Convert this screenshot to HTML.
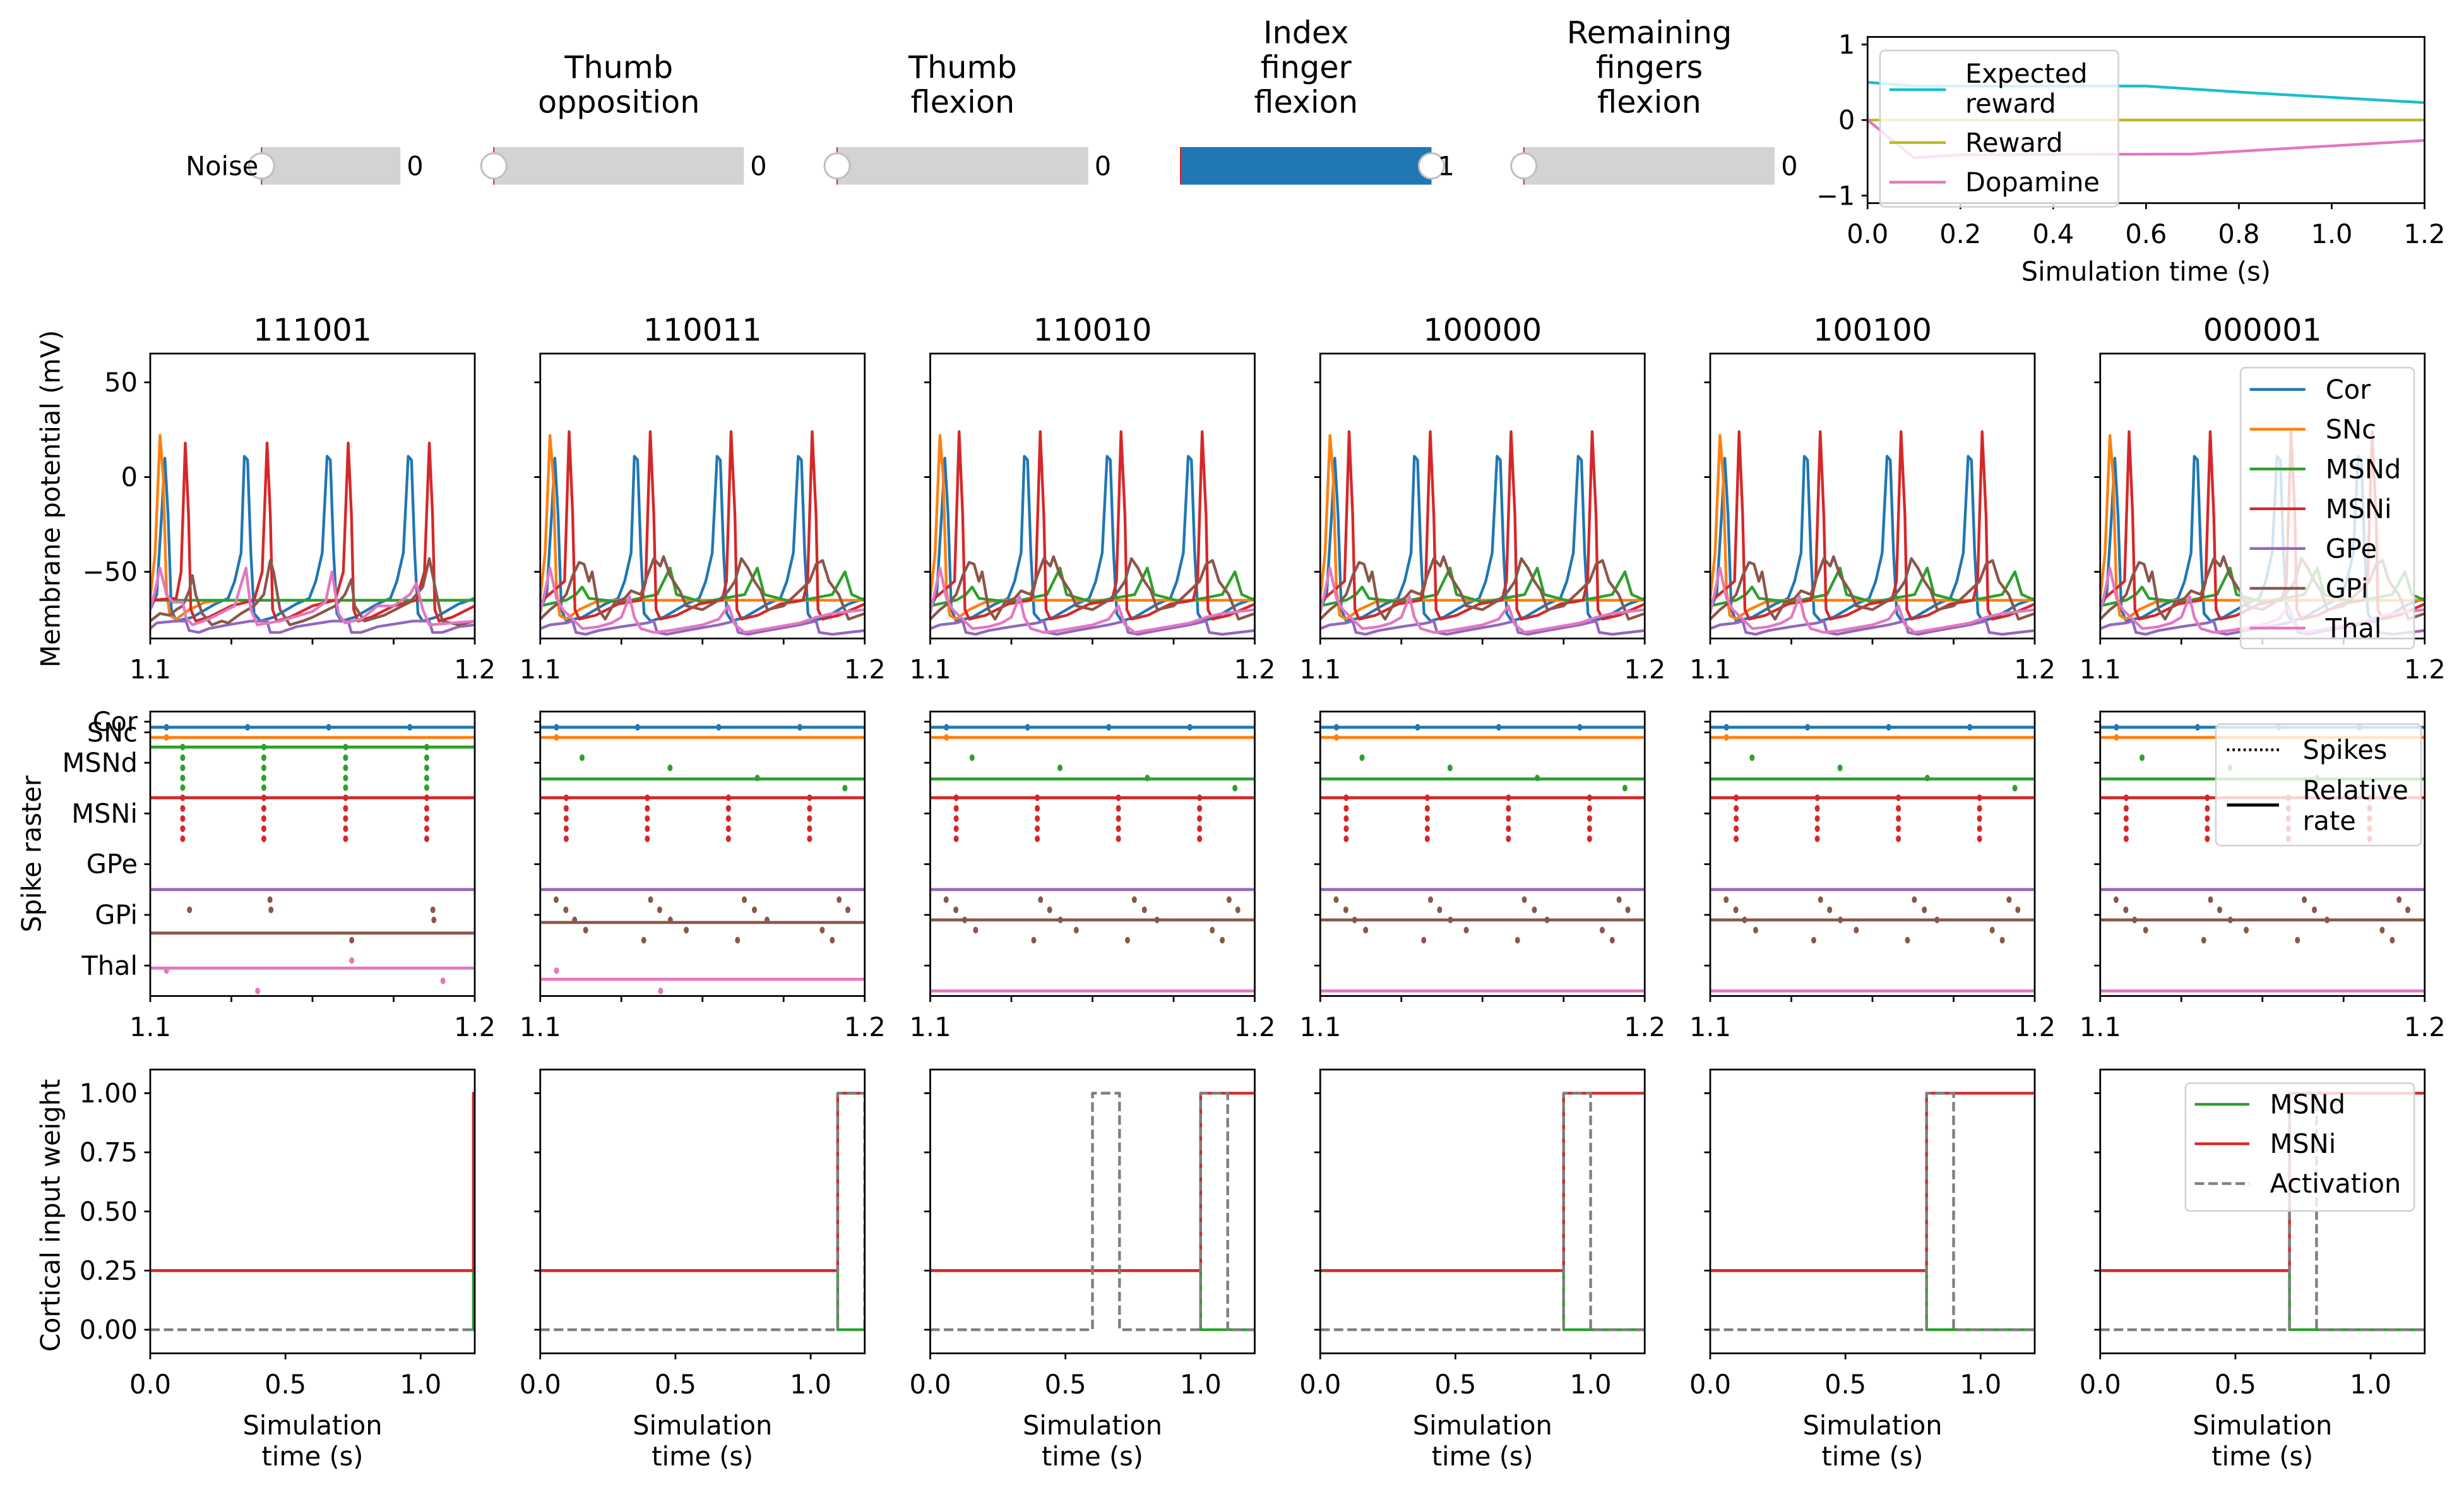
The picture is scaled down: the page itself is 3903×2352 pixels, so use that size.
<!DOCTYPE html>
<html><head><meta charset="utf-8"><style>
html,body{margin:0;padding:0;background:#fff;}
svg{display:block;font-family:"DejaVu Sans","Liberation Sans",sans-serif;}
</style></head><body>
<svg id="fig" xmlns="http://www.w3.org/2000/svg" width="3903" height="2352" viewBox="0 0 1561.2 940.8"></svg>
<script>
// ---------- data ----------
const colTitles = ['111001','110011','110010','100000','100100','000001'];
const popNames = ['Cor','SNc','MSNd','MSNi','GPe','GPi','Thal'];
const popColors = ['#1f77b4','#ff7f0e','#2ca02c','#d62728','#9467bd','#8c564b','#e377c2'];

// membrane potential traces [t, mV] ; pattern A = column 1, pattern B = columns 2-6
const corTrace = [[1.100,-70],[1.102,-62],[1.1035,-20],[1.1045,10],[1.1055,-20],[1.1065,-70],[1.108,-76],[1.113,-74],[1.120,-67],[1.124,-64],[1.126,-55],[1.128,-40],[1.129,11],[1.130,9],[1.131,-40],[1.132,-72],[1.134,-76],[1.138,-74],[1.145,-67],[1.149,-64],[1.151,-55],[1.153,-40],[1.1545,11],[1.1555,9],[1.1565,-40],[1.1575,-72],[1.159,-76],[1.163,-74],[1.170,-67],[1.174,-64],[1.176,-55],[1.178,-40],[1.1795,11],[1.1805,9],[1.1815,-40],[1.1825,-72],[1.184,-76],[1.188,-74],[1.195,-67],[1.200,-64]];
const sncTrace = [[1.100,-64],[1.1015,-40],[1.103,22],[1.104,0],[1.105,-60],[1.106,-73],[1.108,-75],[1.112,-70],[1.117,-66],[1.122,-65],[1.200,-65]];
const msndTraceA = [[1.100,-65],[1.200,-65]];
const msniTraceA = [[1.100,-65],[1.108,-64],[1.1095,-50],[1.1108,18],[1.1118,-20],[1.1125,-70],[1.114,-76],[1.118,-74],[1.125,-68],[1.132,-65],[1.1345,-50],[1.136,18],[1.137,-20],[1.1377,-70],[1.139,-76],[1.143,-74],[1.150,-68],[1.157,-65],[1.1595,-50],[1.161,18],[1.162,-20],[1.1627,-70],[1.164,-76],[1.168,-74],[1.175,-68],[1.182,-65],[1.1845,-50],[1.186,18],[1.187,-20],[1.1877,-70],[1.189,-76],[1.193,-74],[1.200,-68]];
const gpeTraceA = [[1.100,-80],[1.102,-77],[1.108,-76],[1.111,-76],[1.112,-81],[1.115,-82],[1.118,-80],[1.124,-78],[1.131,-76],[1.136,-76],[1.137,-82],[1.140,-82],[1.145,-79],[1.156,-76],[1.161,-76],[1.162,-82],[1.165,-82],[1.170,-79],[1.181,-76],[1.186,-76],[1.187,-82],[1.190,-82],[1.195,-79],[1.200,-78]];
const gpiTraceA = [[1.100,-76],[1.103,-72],[1.106,-73],[1.108,-70],[1.110,-68],[1.112,-60],[1.113,-52],[1.114,-62],[1.116,-72],[1.119,-78],[1.122,-76],[1.124,-77],[1.128,-72],[1.132,-68],[1.135,-62],[1.137,-44],[1.138,-50],[1.140,-70],[1.143,-78],[1.147,-76],[1.150,-74],[1.157,-68],[1.160,-62],[1.162,-54],[1.163,-68],[1.166,-76],[1.172,-73],[1.180,-66],[1.184,-58],[1.186,-43],[1.188,-60],[1.190,-76],[1.195,-78],[1.200,-76]];
const thalTraceA = [[1.100,-70],[1.1015,-60],[1.103,-48],[1.105,-62],[1.107,-66],[1.110,-66],[1.111,-74],[1.113,-78],[1.118,-75],[1.126,-68],[1.1295,-48],[1.131,-70],[1.133,-78],[1.140,-76],[1.150,-71],[1.154,-66],[1.156,-50],[1.158,-72],[1.160,-77],[1.165,-75],[1.170,-68],[1.175,-68],[1.180,-62],[1.182,-56],[1.184,-70],[1.186,-78],[1.200,-76]];
const msndTraceB = [[1.100,-68],[1.108,-65],[1.111,-62],[1.1129,-58],[1.115,-64],[1.125,-66],[1.136,-62],[1.140,-48],[1.142,-62],[1.150,-66],[1.163,-62],[1.1669,-48],[1.169,-62],[1.178,-66],[1.190,-62],[1.1939,-50],[1.196,-62],[1.200,-65]];
const msniTraceB = [[1.100,-66],[1.1075,-55],[1.1089,24],[1.110,-20],[1.1107,-70],[1.112,-75],[1.117,-73],[1.124,-67],[1.131,-65],[1.1325,-55],[1.1339,24],[1.135,-20],[1.1357,-70],[1.137,-75],[1.142,-73],[1.149,-67],[1.156,-65],[1.1574,-55],[1.1588,24],[1.160,-20],[1.1606,-70],[1.162,-75],[1.167,-73],[1.174,-67],[1.181,-65],[1.1824,-55],[1.1838,24],[1.185,-20],[1.1856,-70],[1.187,-75],[1.192,-73],[1.200,-67]];
const gpeTraceB = [[1.100,-80],[1.103,-78],[1.108,-77],[1.110,-76],[1.111,-82],[1.114,-83],[1.118,-81],[1.125,-79],[1.133,-77],[1.135,-76],[1.136,-82],[1.139,-83],[1.145,-81],[1.155,-78],[1.160,-76],[1.161,-82],[1.164,-83],[1.170,-81],[1.180,-78],[1.185,-76],[1.186,-82],[1.190,-83],[1.200,-81]];
const gpiTraceB = [[1.100,-75],[1.103,-70],[1.106,-66],[1.108,-62],[1.110,-52],[1.112,-45],[1.1135,-46],[1.115,-55],[1.116,-50],[1.118,-70],[1.120,-75],[1.123,-66],[1.126,-64],[1.128,-60],[1.131,-62],[1.133,-52],[1.135,-43],[1.137,-47],[1.138,-42],[1.140,-52],[1.143,-60],[1.145,-68],[1.150,-70],[1.155,-65],[1.158,-60],[1.160,-55],[1.162,-43],[1.164,-48],[1.166,-55],[1.168,-60],[1.170,-70],[1.175,-68],[1.180,-60],[1.183,-55],[1.185,-46],[1.187,-44],[1.189,-55],[1.192,-62],[1.195,-75],[1.200,-72]];
const thalTraceB = [[1.100,-72],[1.1015,-60],[1.103,-48],[1.105,-64],[1.107,-70],[1.110,-75],[1.113,-80],[1.118,-79],[1.122,-77],[1.125,-74],[1.1275,-63],[1.129,-74],[1.131,-80],[1.135,-82],[1.140,-81],[1.150,-78],[1.155,-75],[1.158,-68],[1.160,-78],[1.163,-82],[1.170,-80],[1.180,-77],[1.185,-74],[1.190,-72],[1.200,-70]];
const tracesA = [corTrace,sncTrace,msndTraceA,msniTraceA,gpeTraceA,gpiTraceA,thalTraceA];
const tracesB = [corTrace,sncTrace,msndTraceB,msniTraceB,gpeTraceB,gpiTraceB,thalTraceB];

// raster
const rasterTickVals = [4.81,4.6,4.0,3.0,2.0,1.0,0.0];
const corSpikes = [1.1050,1.1300,1.1550,1.1800];
const sncSpikes = [1.1050];
const msnRowsD = [4.31,4.10,3.90,3.70,3.51];
const msnRowsI = [3.31,3.10,2.90,2.70,2.50];
const msnTimesA = [1.1100,1.1350,1.1602,1.1852];
const msniTimesB = [1.1080,1.1330,1.1580,1.1830];
const msndSpikesB = [[1.1129,4.10],[1.1400,3.90],[1.1669,3.70],[1.1939,3.50]];
const gpiSpikesA = [[1.1121,1.10],[1.1369,1.30],[1.1372,1.10],[1.1621,0.50],[1.1871,1.10],[1.1874,0.90]];
const gpiSpikesB = [[1.1049,1.30],[1.1340,1.30],[1.1629,1.30],[1.1921,1.30],[1.1079,1.10],[1.1368,1.10],[1.1660,1.10],[1.1948,1.10],[1.1106,0.90],[1.1401,0.90],[1.1699,0.90],[1.1140,0.70],[1.1450,0.70],[1.1869,0.70],[1.1319,0.50],[1.1608,0.50],[1.1900,0.50]];
const thalSpikesA = [[1.1050,-0.10],[1.1331,-0.50],[1.1621,0.10],[1.1902,-0.30]];
const thalSpikesCol2 = [[1.1050,-0.10],[1.1371,-0.50]];
// relative rate levels per column: Cor,SNc,MSNd,MSNi,GPe,GPi,Thal
const rateCol1 = [4.70,4.50,4.31,3.31,1.50,0.64,-0.05];
const rateCol2 = [4.70,4.50,3.68,3.31,1.50,0.85,-0.27];
const rateCol3to6 = [4.70,4.50,3.68,3.31,1.50,0.90,-0.50];

// cortical weights
const switchTimes = [1.195,1.1,1.0,0.9,0.8,0.7];
const activationPulses = [[],[[1.1,1.2]],[[0.6,0.7],[1.0,1.1]],[[0.9,1.0]],[[0.8,0.9]],[[0.7,0.8]]];
const weightLow = 0.25, weightHigh = 1.0;

// reward panel
const expectedReward = [[0,0.5],[0.1,0.45],[0.6,0.45],[0.8,0.37],[1.0,0.3],[1.2,0.23]];
const rewardSeries = [[0,0],[1.2,0]];
const dopamineSeries = [[0,0],[0.1,-0.5],[0.2,-0.46],[0.7,-0.45],[1.2,-0.27]];

// sliders
const sliderLabels = [['Noise'],['Thumb','opposition'],['Thumb','flexion'],['Index','finger','flexion'],['Remaining','fingers','flexion']];
const sliderValues = [0,0,0,1,0];

// ---------- drawing ----------
const svg = document.getElementById('fig');
const NS = 'http://www.w3.org/2000/svg';
function mk(tag, attrs, name, parent){
  const el = document.createElementNS(NS, tag);
  for (const k in attrs) el.setAttribute(k, attrs[k]);
  
  
  (parent || svg).appendChild(el);
  return el;
}
function txt(x,y,s,size,anchor,name,parent,extra){
  const a = Object.assign({x:x,y:y,'font-size':size,'text-anchor':anchor||'middle','dominant-baseline':'central',fill:'#000'}, extra||{});
  const t = mk('text', a, name, parent);
  t.textContent = s;
  return t;
}
const FT = 16.6, FTITLE = 19.7, LW = 1.75;
let clipN = 0;
function axes(x0,y0,w,h,xmin,xmax,ymin,ymax,name){
  const g = mk('g',{},name);
  const id = 'clip'+(clipN++);
  const cp = mk('clipPath',{id:id},'clip-region',g);
  mk('rect',{x:x0,y:y0,width:w,height:h},'clip-rect',cp);
  const data = mk('g',{'clip-path':'url(#'+id+')'},'plot-area',g);
  const sx = v => x0 + (v-xmin)/(xmax-xmin)*w;
  const sy = v => y0 + h - (v-ymin)/(ymax-ymin)*h;
  return {g:g,data:data,sx:sx,sy:sy,x0:x0,y0:y0,w:w,h:h};
}
function frame(ax){
  mk('rect',{x:ax.x0,y:ax.y0,width:ax.w,height:ax.h,fill:'none',stroke:'#000','stroke-width':1.1},'axes-frame',ax.g);
}
function xticks(ax,vals,labels,name){
  vals.forEach((v,i)=>{
    const x = ax.sx(v);
    mk('line',{x1:x,x2:x,y1:ax.y0+ax.h,y2:ax.y0+ax.h+3.8,stroke:'#000','stroke-width':1.1},'x-tick',ax.g);
    if (labels && labels[i] !== '') txt(x, ax.y0+ax.h+19.5, labels[i], FT, 'middle', name||'x-tick-label', ax.g);
  });
}
function yticks(ax,vals,labels,name){
  vals.forEach((v,i)=>{
    const y = ax.sy(v);
    mk('line',{x1:ax.x0-3.8,x2:ax.x0,y1:y,y2:y,stroke:'#000','stroke-width':1.1},'y-tick',ax.g);
    if (labels) txt(ax.x0-8, y, labels[i], FT, 'end', name||'y-tick-label', ax.g);
  });
}
function poly(ax,pts,color,name,dash,w){
  const p = pts.map(q=>ax.sx(q[0]).toFixed(2)+','+ax.sy(q[1]).toFixed(2)).join(' ');
  const a = {points:p,fill:'none',stroke:color,'stroke-width':w||LW,'stroke-linejoin':'round'};
  if (dash) a['stroke-dasharray'] = dash;
  return mk('polyline',a,name,ax.data);
}
function dot(ax,t,y,color,name){
  mk('ellipse',{cx:ax.sx(t),cy:ax.sy(y),rx:1.6,ry:2.1,fill:color},name,ax.data);
}

const colLeft = [95.2,342.3,589.4,836.5,1083.6,1330.7];
const W = 205.6;

// ---- sliders ----
const sliderX0 = [165.7,312.9,530.4,748.0,965.5];
const sliderX1 = [253.7,471.3,689.5,907.0,1124.5];
sliderLabels.forEach((lab,i)=>{
  const g = mk('g',{},'slider-'+lab.join('-').toLowerCase());
  
  const x0 = sliderX0[i], x1 = sliderX1[i], y0 = 93.2, h = 23.8;
  const frac = sliderValues[i];
  mk('rect',{x:x0,y:y0,width:x1-x0,height:h,fill:frac>0?'#1f77b4':'#d3d3d3'},'slider-track',g);
  mk('line',{x1:x0,x2:x0,y1:y0,y2:y0+h,stroke:'#d62728','stroke-width':0.8},'slider-init-marker',g);
  const hx = x0 + frac*(x1-x0);
  const hd = mk('circle',{cx:hx,cy:y0+h/2,r:8,fill:'#fff',stroke:'#bfbfbf','stroke-width':1.2},'slider-handle',g);
  
  txt(x1+4, y0+h/2, String(sliderValues[i]), FT, 'start', 'slider-value', g);
  if (lab.length===1) {
    txt(x0-2, y0+h/2, lab[0], FT, 'end', 'slider-label', g);
  } else {
    const cx = (x0+x1)/2;
    const ys = lab.length===3 ? [20.5,42.5,64.5] : [42.5,64.5];
    lab.forEach((s,k)=>txt(cx, ys[k], s, FTITLE, 'middle', 'slider-title', g));
  }
});

// ---- reward panel ----
(function(){
  const ax = axes(1183.3,23.4,352.9,105.3,0,1.2,-1.1,1.1,'reward-panel');
  poly(ax,expectedReward,'#17becf','expected-reward-line');
  poly(ax,rewardSeries,'#bcbd22','reward-line');
  poly(ax,dopamineSeries,'#e377c2','dopamine-line');
  frame(ax);
  xticks(ax,[0,0.2,0.4,0.6,0.8,1.0,1.2],['0.0','0.2','0.4','0.6','0.8','1.0','1.2']);
  yticks(ax,[-1,0,1],['\u22121','0','1']);
  txt(ax.x0+ax.w/2, 172, 'Simulation time (s)', FT, 'middle', 'reward-x-axis-title', ax.g);
  const lg = mk('g',{},'reward-legend',ax.g);
  mk('rect',{x:1191.2,y:32,width:151,height:99,rx:3,fill:'#fff','fill-opacity':0.8,stroke:'#d0d0d0','stroke-width':1},'legend-box',lg);
  const items = [['#17becf',56.8,['Expected','reward'],[46.5,65.5]],['#bcbd22',90.3,['Reward'],[90.3]],['#e377c2',115.4,['Dopamine'],[115.4]]];
  items.forEach(it=>{
    mk('line',{x1:1197.1,x2:1232.9,y1:it[1],y2:it[1],stroke:it[0],'stroke-width':LW},'legend-swatch',lg);
    it[2].forEach((s,k)=>txt(1245.2,it[3][k],s,FT,'start','legend-entry',lg));
  });
})();

// ---- membrane row ----
colTitles.forEach((title,c)=>{
  const ax = axes(colLeft[c],224,W,180.5,1.1,1.2,-85.2,65.2,'membrane-panel-'+title);
  const tr = c===0 ? tracesA : tracesB;
  tr.forEach((pts,k)=>poly(ax,pts,popColors[k],'membrane-trace-'+popNames[k].toLowerCase()));
  frame(ax);
  xticks(ax,[1.1,1.125,1.15,1.175,1.2],['1.1','','','','1.2']);
  yticks(ax,[-50,0,50], c===0 ? ['\u221250','0','50'] : null);
  txt(ax.x0+W/2, 209, title, FTITLE, 'middle', 'column-title', ax.g);
  if (c===5) {
    const lg = mk('g',{},'membrane-legend',ax.g);
    mk('rect',{x:1419.6,y:232.9,width:110,height:178,rx:3,fill:'#fff','fill-opacity':0.8,stroke:'#d0d0d0','stroke-width':1},'legend-box',lg);
    popNames.forEach((p,k)=>{
      const y = 246.7 + k*25.2;
      mk('line',{x1:1425.4,x2:1460.7,y1:y,y2:y,stroke:popColors[k],'stroke-width':LW},'legend-swatch',lg);
      txt(1473.5,y,p,FT,'start','legend-entry',lg);
    });
  }
});
txt(32, 316, 'Membrane potential (mV)', FT, 'middle', 'membrane-y-axis-title', svg, {transform:'rotate(-90 32 316)'});

// ---- raster row ----
colTitles.forEach((title,c)=>{
  const ax = axes(colLeft[c],450.8,W,180.2,1.1,1.2,-0.6,5.01,'raster-panel-'+title);
  const rates = c===0 ? rateCol1 : (c===1 ? rateCol2 : rateCol3to6);
  rates.forEach((r,k)=>poly(ax,[[1.1,r],[1.2,r]],popColors[k],'rate-line-'+popNames[k].toLowerCase(),null,1.9));
  corSpikes.forEach(t=>dot(ax,t,rates[0],popColors[0],'spike-cor'));
  sncSpikes.forEach(t=>dot(ax,t,rates[1],popColors[1],'spike-snc'));
  if (c===0) {
    msnTimesA.forEach(t=>{
      msnRowsD.forEach(y=>dot(ax,t,y,popColors[2],'spike-msnd'));
      msnRowsI.forEach(y=>dot(ax,t,y,popColors[3],'spike-msni'));
    });
    gpiSpikesA.forEach(s=>dot(ax,s[0],s[1],popColors[5],'spike-gpi'));
    thalSpikesA.forEach(s=>dot(ax,s[0],s[1],popColors[6],'spike-thal'));
  } else {
    msndSpikesB.forEach(s=>dot(ax,s[0],s[1],popColors[2],'spike-msnd'));
    msniTimesB.forEach(t=>msnRowsI.forEach(y=>dot(ax,t,y,popColors[3],'spike-msni')));
    gpiSpikesB.forEach(s=>dot(ax,s[0],s[1],popColors[5],'spike-gpi'));
    if (c===1) thalSpikesCol2.forEach(s=>dot(ax,s[0],s[1],popColors[6],'spike-thal'));
  }
  frame(ax);
  xticks(ax,[1.1,1.125,1.15,1.175,1.2],['1.1','','','','1.2']);
  yticks(ax,rasterTickVals, c===0 ? popNames : null, 'population-label');
  if (c===5) {
    const lg = mk('g',{},'raster-legend',ax.g);
    mk('rect',{x:1404,y:458.7,width:130,height:77,rx:3,fill:'#fff','fill-opacity':0.8,stroke:'#d0d0d0','stroke-width':1},'legend-box',lg);
    mk('line',{x1:1411,x2:1444,y1:475,y2:475,stroke:'#000','stroke-width':LW,'stroke-dasharray':'1.5 2'},'legend-swatch-spikes',lg);
    txt(1459,475,'Spikes',FT,'start','legend-entry',lg);
    mk('line',{x1:1411,x2:1444,y1:510,y2:510,stroke:'#000','stroke-width':2},'legend-swatch-rate',lg);
    txt(1459,500.5,'Relative',FT,'start','legend-entry',lg);
    txt(1459,520,'rate',FT,'start','legend-entry',lg);
  }
});
txt(20, 541, 'Spike raster', FT, 'middle', 'raster-y-axis-title', svg, {transform:'rotate(-90 20 541)'});

// ---- weight row ----
colTitles.forEach((title,c)=>{
  const ax = axes(colLeft[c],677.6,W,179.8,0,1.2,-0.1,1.1,'weight-panel-'+title);
  const s = switchTimes[c];
  const green = [[0,weightLow],[s,weightLow],[s,0],[1.2,0]];
  const red = [[0,weightLow],[s,weightLow],[s,weightHigh],[1.2,weightHigh]];
  const act = [[0,0]];
  activationPulses[c].forEach(p=>{act.push([p[0],0],[p[0],1],[p[1],1],[p[1],0]);});
  act.push([1.2,0]);
  poly(ax,green,'#2ca02c','msnd-weight-line');
  poly(ax,red,'#d62728','msni-weight-line');
  poly(ax,act,'#7f7f7f','activation-line','6 2.6');
  frame(ax);
  xticks(ax,[0,0.5,1.0],['0.0','0.5','1.0']);
  yticks(ax,[0,0.25,0.5,0.75,1.0], c===0 ? ['0.00','0.25','0.50','0.75','1.00'] : null);
  txt(ax.x0+W/2, 903, 'Simulation', FT, 'middle', 'x-axis-title', ax.g);
  txt(ax.x0+W/2, 922.5, 'time (s)', FT, 'middle', 'x-axis-title', ax.g);
  if (c===5) {
    const lg = mk('g',{},'weight-legend',ax.g);
    mk('rect',{x:1384.7,y:686.2,width:145,height:81,rx:3,fill:'#fff','fill-opacity':0.8,stroke:'#d0d0d0','stroke-width':1},'legend-box',lg);
    const it = [['#2ca02c','MSNd',699.6,null],['#d62728','MSNi',724.6,null],['#7f7f7f','Activation',749.8,'6 2.6']];
    it.forEach(e=>{
      const a = {x1:1390.6,x2:1425.2,y1:e[2],y2:e[2],stroke:e[0],'stroke-width':LW};
      if (e[3]) a['stroke-dasharray'] = e[3];
      mk('line',a,'legend-swatch',lg);
      txt(1438.2,e[2],e[1],FT,'start','legend-entry',lg);
    });
  }
});
txt(32, 770, 'Cortical input weight', FT, 'middle', 'weight-y-axis-title', svg, {transform:'rotate(-90 32 770)'});
</script>
</body></html>
